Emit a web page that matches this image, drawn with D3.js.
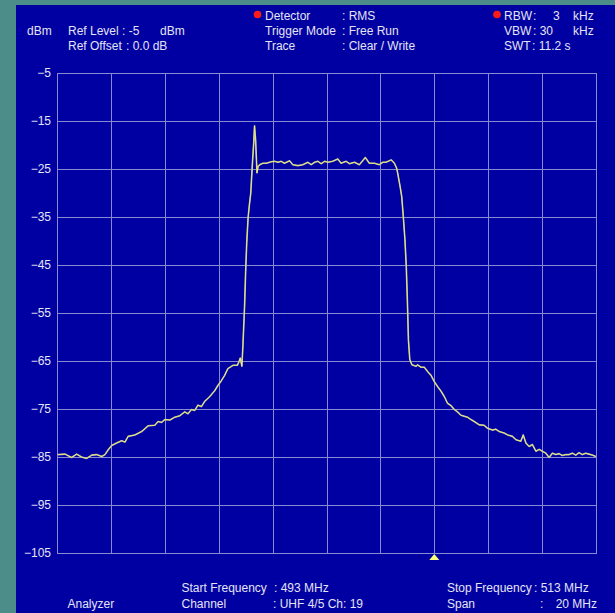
<!DOCTYPE html>
<html>
<head>
<meta charset="utf-8">
<script src="https://cdn.jsdelivr.net/npm/d3@7"></script>
<style>
  html, body { margin: 0; padding: 0; background: #4c8c89; }
  svg { display: block; }
  text { font-family: "Liberation Sans", Arial, sans-serif; font-size: 12px; fill: #e4e4f2; }
</style>
</head>
<body>
<svg id="chart" width="615" height="613"></svg>
<script>
// Sweep settings
const startMHz = 493;
const stopMHz = 513;
const refLevel = -5;
const bottomLevel = -105;
const levelTicks = [-5, -15, -25, -35, -45, -55, -65, -75, -85, -95, -105];
const freqGrid = [493, 495, 497, 499, 501, 503, 505, 507, 509, 511, 513];
const markerMHz = 507;

// RMS trace: frequency (MHz) and level (dBm)
const freqMHz = [
  493.03, 493.30, 493.54, 493.73, 493.91, 494.10, 494.29, 494.47, 494.66, 494.78,
  494.90, 495.03, 495.21, 495.40, 495.52, 495.64, 495.89, 496.14, 496.38, 496.63,
  496.75, 496.88, 497.00, 497.19, 497.37, 497.56, 497.74, 497.86, 497.99, 498.11,
  498.23, 498.36, 498.48, 498.67, 498.85, 498.97, 499.10, 499.22, 499.34, 499.53,
  499.69, 499.75, 499.80, 499.86, 499.90, 499.96, 500.00, 500.04, 500.09, 500.14,
  500.19, 500.22, 500.26, 500.30, 500.33, 500.37, 500.42, 500.46,
  500.52, 500.64, 500.77, 500.95, 501.07, 501.20, 501.32, 501.44, 501.63, 501.75,
  501.94, 502.12, 502.31, 502.43, 502.56, 502.68, 502.80, 502.93, 503.05, 503.23,
  503.42, 503.54, 503.73, 503.85, 504.04, 504.22, 504.44, 504.59, 504.78, 504.96,
  505.09, 505.21, 505.40, 505.52, 505.60,
  505.64, 505.73, 505.79, 505.85, 505.91, 505.96, 506.00, 506.04, 506.09, 506.17,
  506.32, 506.38, 506.51, 506.63, 506.75, 506.88, 507.00, 507.12, 507.25, 507.37,
  507.49, 507.62, 507.74, 507.86, 507.99, 508.11, 508.23, 508.36, 508.48, 508.67,
  508.85, 508.97, 509.16, 509.28, 509.41, 509.59, 509.72, 509.90, 510.03, 510.21,
  510.30, 510.40, 510.52, 510.64, 510.77, 510.89, 511.01, 511.14, 511.26, 511.38,
  511.51, 511.63, 511.75, 511.88, 512.00, 512.12, 512.25, 512.37, 512.49, 512.62,
  512.74, 512.86, 512.99
];
const levelDbm = [
  -84.5, -84.4, -85.1, -84.4, -85.0, -85.3, -84.6, -84.5, -84.9, -84.5,
  -83.5, -82.6, -82.1, -81.6, -81.9, -80.7, -80.4, -79.7, -78.5, -78.4,
  -77.6, -77.8, -77.2, -77.3, -76.7, -76.4, -75.6, -76.0, -75.1, -75.3,
  -74.2, -74.5, -73.4, -72.4, -71.2, -70.1, -69.1, -68.0, -66.6, -65.9,
  -65.9, -65.2, -64.4, -66.1, -61.6, -53.6, -46.3, -40.4, -35.2, -32.4,
  -30.0, -26.9, -23.0, -19.5, -16.0, -19.0, -25.8, -24.5,
  -24.1, -23.8, -23.8, -23.5, -23.4, -23.6, -23.4, -23.8, -23.3, -24.1,
  -24.3, -24.1, -23.6, -24.1, -23.6, -23.4, -23.9, -23.4, -23.6, -23.4,
  -22.9, -23.8, -23.4, -23.9, -23.6, -24.1, -22.6, -23.8, -23.8, -24.1,
  -23.6, -23.6, -23.1, -23.8, -24.8,
  -25.8, -28.6, -30.7, -34.9, -39.7, -45.3, -52.2, -60.6, -64.7, -65.8,
  -66.1, -65.8, -66.3, -66.3, -67.2, -68.0, -69.3, -70.3, -71.3, -72.4,
  -73.8, -74.3, -75.1, -75.6, -76.3, -76.5, -76.7, -77.2, -77.6, -78.3,
  -78.4, -79.0, -79.4, -79.2, -79.7, -80.0, -80.4, -80.7, -81.4, -81.7,
  -80.4, -82.1, -82.8, -82.4, -83.8, -83.4, -83.8, -84.2, -85.1, -84.2,
  -84.5, -84.3, -84.7, -84.5, -84.5, -84.2, -84.6, -84.1, -84.5, -84.2,
  -84.4, -84.6, -84.9
];

const svg = d3.select("#chart");
const W = 615, H = 613;

// Instrument panel
svg.append("rect").attr("x", 0).attr("y", 0).attr("width", W).attr("height", H).attr("fill", "#4c8c89");
svg.append("rect").attr("x", 16).attr("y", 5).attr("width", W - 16).attr("height", H - 5).attr("fill", "#0000a2");

const x = d3.scaleLinear().domain([startMHz, stopMHz]).range([57, 596]);
const y = d3.scaleLinear().domain([bottomLevel, refLevel]).range([553, 73]);

const gridColor = "#8a8ad4";
const grid = svg.append("g").attr("stroke", gridColor).attr("stroke-width", 1).attr("shape-rendering", "crispEdges");
grid.selectAll("line.v").data(freqGrid).join("line")
  .attr("class", "v")
  .attr("x1", d => Math.round(x(d)) + 0.5).attr("x2", d => Math.round(x(d)) + 0.5)
  .attr("y1", y(refLevel)).attr("y2", y(bottomLevel));
grid.selectAll("line.h").data(levelTicks).join("line")
  .attr("class", "h")
  .attr("x1", x(startMHz)).attr("x2", x(stopMHz) + 1)
  .attr("y1", d => Math.round(y(d)) + 0.5).attr("y2", d => Math.round(y(d)) + 0.5);

// Level labels
const yAxis = d3.axisLeft(y).tickValues(levelTicks).tickSize(0).tickPadding(6).tickFormat(d3.format("d"));
const yg = svg.append("g").attr("transform", "translate(57,0)").call(yAxis);
yg.select(".domain").remove();
yg.selectAll("text").attr("fill", "#e4e4f2").attr("font-size", 12).attr("font-family", "Liberation Sans, Arial, sans-serif");

// Trace
const pts = freqMHz.map((f, i) => [f, levelDbm[i]]);
const line = d3.line().x(d => x(d[0])).y(d => y(d[1]));
svg.append("path").datum(pts)
  .attr("d", line)
  .attr("fill", "none")
  .attr("stroke", "#b4b49a")
  .attr("stroke-width", 1.6)
  .attr("stroke-linejoin", "round");
svg.append("path").datum(pts)
  .attr("d", line)
  .attr("fill", "none")
  .attr("stroke", "#f2f27c")
  .attr("stroke-width", 0.8)
  .attr("stroke-linejoin", "round");

// Marker
const mx = x(markerMHz), my = y(bottomLevel) + 1;
svg.append("path")
  .attr("d", `M${mx},${my} L${mx - 5},${my + 6} L${mx + 5},${my + 6} Z`)
  .attr("fill", "#ffff7a");

// Header and footer text
function txt(tx, ty, s, anchor) {
  svg.append("text").attr("x", tx).attr("y", ty).attr("text-anchor", anchor || "start").text(s);
}
txt(27, 35, "dBm");
txt(68, 35, "Ref Level");
txt(122, 35, ": -5");
txt(160, 35, "dBm");
txt(68, 50, "Ref Offset");
txt(126, 50, ":  0.0 dB");

svg.append("circle").attr("cx", 257.5).attr("cy", 14.5).attr("r", 3.8).attr("fill", "#ff1a1a");
txt(265, 19.5, "Detector");
txt(342, 19.5, ": RMS");
txt(265, 35, "Trigger Mode");
txt(342, 35, ": Free Run");
txt(265, 50, "Trace");
txt(342, 50, ": Clear / Write");

svg.append("circle").attr("cx", 497).attr("cy", 14.5).attr("r", 3.8).attr("fill", "#ff1a1a");
txt(504, 19.5, "RBW");
txt(533, 19.5, ":");
txt(553, 19.5, "3");
txt(573, 19.5, "kHz");
txt(504, 35, "VBW");
txt(533, 35, ": 30");
txt(573, 35, "kHz");
txt(504, 50, "SWT");
txt(532, 50, ": 11.2 s");

txt(181.5, 592, "Start Frequency");
txt(274, 592, ": 493 MHz");
txt(67.5, 608, "Analyzer");
txt(181.5, 608, "Channel");
txt(273, 608, ": UHF 4/5 Ch: 19");
txt(447, 592, "Stop Frequency");
txt(534, 592, ": 513 MHz");
txt(447, 608, "Span");
txt(540, 608, ":");
txt(597, 608, "20 MHz", "end");
</script>
</body>
</html>
